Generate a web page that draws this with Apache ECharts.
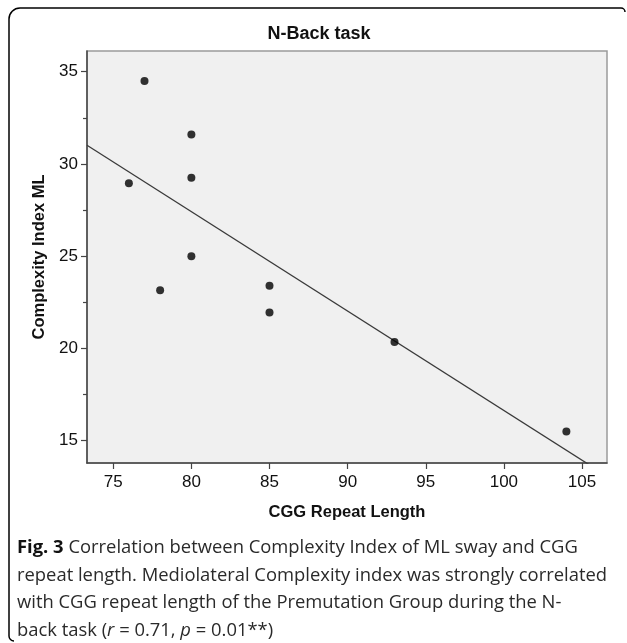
<!DOCTYPE html>
<html>
<head>
<meta charset="utf-8">
<script src="https://cdn.jsdelivr.net/npm/echarts@6/dist/echarts.min.js"></script>
<style>
html,body{margin:0;padding:0;background:#fff;}
#c{width:627px;height:643px;}
</style>
</head>
<body>
<div id="c"></div>
<script>
// Data
var cggRepeat = [77, 80, 80, 76, 80, 78, 85, 85, 93, 104];
var complexityML = [34.5, 31.6, 29.25, 28.95, 25.0, 23.15, 23.4, 21.95, 20.35, 15.5];
var xTicks = [75, 80, 85, 90, 95, 100, 105];
var yTicks = [15, 20, 25, 30, 35];
var yMinorTicks = [17.5, 22.5, 27.5, 32.5];
var titleText = 'N-Back task';
var xName = 'CGG Repeat Length';
var yName = 'Complexity Index ML';
var captionLines = [
  '{b|Fig. 3} Correlation between Complexity Index of ML sway and CGG',
  'repeat length. Mediolateral Complexity index was strongly correlated',
  'with CGG repeat length of the Premutation Group during the N-',
  'back task ({i|r} = 0.71, {i|p} = 0.01**)'
];

var X_MIN = 73.32, X_MAX = 106.6, Y_MIN = 13.79, Y_MAX = 36.12;

// least squares fit line from the data
var n = cggRepeat.length, mx = 0, my = 0;
for (var i = 0; i < n; i++) { mx += cggRepeat[i]; my += complexityML[i]; }
mx /= n; my /= n;
var sxy = 0, sxx = 0;
for (i = 0; i < n; i++) { sxy += (cggRepeat[i]-mx)*(complexityML[i]-my); sxx += (cggRepeat[i]-mx)*(cggRepeat[i]-mx); }
var slope = sxy / sxx, icpt = my - slope * mx;
var fitLine = [[X_MIN, icpt + slope*X_MIN], [X_MAX, icpt + slope*X_MAX]];

var points = cggRepeat.map(function(x, k){ return [x, complexityML[k]]; });

var chart = echarts.init(document.getElementById('c'), null, {renderer:'canvas'});
var labelFont = {fontFamily:'Liberation Sans, Arial, sans-serif', fontSize:17, color:'#111'};
var capSize = 18.4;

var captionGraphics = captionLines.map(function(t, k){
  return {
    type:'text', left:17, top:539 + k*27.6,
    style:{
      text:t, fill:'#2a2a2a', font:capSize + 'px "Open Sans", sans-serif',
      rich:{
        b:{fontWeight:'bold', fontFamily:'Open Sans, sans-serif', fontSize:capSize, fill:'#111'},
        i:{fontStyle:'italic', fontFamily:'Open Sans, sans-serif', fontSize:capSize, fill:'#2a2a2a'}
      }
    }
  };
});

var frameStyle = {stroke:'#000', lineWidth:1.5, fill:null};
var frame = [
  {type:'line', shape:{x1:9, y1:19, x2:9, y2:636}, style:frameStyle},
  {type:'line', shape:{x1:20, y1:8, x2:621, y2:8}, style:frameStyle},
  {type:'arc', shape:{cx:20, cy:19, r:11, startAngle:Math.PI, endAngle:Math.PI*1.5}, style:frameStyle},
  {type:'arc', shape:{cx:14, cy:636, r:5, startAngle:Math.PI*0.5, endAngle:Math.PI}, style:frameStyle},
  {type:'arc', shape:{cx:621, cy:12, r:4, startAngle:Math.PI*1.5, endAngle:Math.PI*2}, style:frameStyle}
];

chart.setOption({
  animation:false,
  backgroundColor:'#fff',
  title:{
    text:titleText, left:314, top:20, textAlign:'center',
    textStyle:{fontFamily:'Liberation Sans, Arial, sans-serif', fontSize:18, fontWeight:'bold', color:'#111'}
  },
  grid:{left:87, right:20, top:51, bottom:180, show:true, backgroundColor:'#f0f0f0', borderColor:'#9a9a9a', borderWidth:1.5},
  xAxis:{
    type:'value', min:X_MIN, max:X_MAX,
    name:xName, nameLocation:'middle', nameGap:41,
    nameTextStyle:{fontFamily:'Liberation Sans, Arial, sans-serif', fontSize:16.5, fontWeight:'bold', color:'#111'},
    axisLine:{show:true, lineStyle:{color:'#444', width:1.5}},
    axisTick:{show:true, length:6, customValues:xTicks, lineStyle:{color:'#444', width:1.2}},
    axisLabel:Object.assign({customValues:xTicks, margin:11}, labelFont),
    splitLine:{show:false}
  },
  yAxis:[{
    type:'value', min:Y_MIN, max:Y_MAX,
    name:yName, nameLocation:'middle', nameGap:37, nameRotate:90,
    nameTextStyle:{fontFamily:'Liberation Sans, Arial, sans-serif', fontSize:16.5, fontWeight:'bold', color:'#111'},
    axisLine:{show:true, lineStyle:{color:'#444', width:1.5}},
    axisTick:{show:true, length:6, customValues:yTicks, lineStyle:{color:'#444', width:1.2}},
    axisLabel:Object.assign({customValues:yTicks, margin:9}, labelFont),
    splitLine:{show:false}
  },{
    type:'value', min:Y_MIN, max:Y_MAX, position:'left',
    axisLine:{show:false},
    axisTick:{show:true, length:4, customValues:yMinorTicks, lineStyle:{color:'#444', width:1.2}},
    axisLabel:{show:false},
    splitLine:{show:false}
  }],
  series:[{
    type:'line', data:fitLine, showSymbol:false, symbol:'none', clip:true,
    lineStyle:{color:'#3a3a3a', width:1.3}, silent:true, z:2
  },{
    type:'scatter', data:points, symbol:'circle', symbolSize:8,
    itemStyle:{color:'#000'}, z:3
  }],
  graphic:frame.concat(captionGraphics)
});
</script>
</body>
</html>
